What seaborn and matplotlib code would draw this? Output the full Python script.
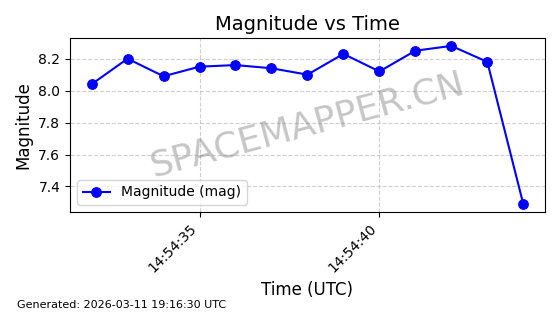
import matplotlib
matplotlib.use("Agg")
import matplotlib.pyplot as plt
import matplotlib.dates as mdates
import seaborn as sns
import pandas as pd

times = ["14:54:32", "14:54:33", "14:54:34", "14:54:35", "14:54:36", "14:54:37",
         "14:54:38", "14:54:39", "14:54:40", "14:54:41", "14:54:42", "14:54:43",
         "14:54:44"]
magnitudes = [8.04, 8.20, 8.09, 8.15, 8.16, 8.14, 8.10, 8.23, 8.12, 8.25, 8.28, 8.18, 7.29]

df = pd.DataFrame({
    "time": pd.to_datetime(["2026-03-11 " + t for t in times]),
    "mag": magnitudes,
})

fig, ax = plt.subplots(figsize=(5.6, 3.14), dpi=100)
sns.lineplot(data=df, x="time", y="mag", ax=ax, color="blue", marker="o",
             markersize=7, markeredgecolor="blue", linewidth=1.5,
             label="Magnitude (mag)")
ax.set_title("Magnitude vs Time", fontsize=14)
ax.set_xlabel("Time (UTC)", fontsize=12)
ax.set_ylabel("Magnitude", fontsize=12)
ax.grid(True, linestyle="--", alpha=0.6)
ax.xaxis.set_major_locator(mdates.SecondLocator(bysecond=range(0, 60, 5)))
ax.xaxis.set_major_formatter(mdates.DateFormatter("%H:%M:%S"))
plt.setp(ax.get_xticklabels(), rotation=45, ha="right")
ax.legend(loc="lower left", fontsize=10)
ax.text(0.5, 0.5, "SPACEMAPPER.CN", transform=ax.transAxes, fontsize=26,
        color="gray", alpha=0.45, ha="center", va="center", rotation=15)
fig.text(0.03, 0.02, "Generated: 2026-03-11 19:16:30 UTC", fontsize=8)
fig.subplots_adjust(left=0.125, right=0.973, top=0.879, bottom=0.325)
fig.savefig("out.png", dpi=100)
